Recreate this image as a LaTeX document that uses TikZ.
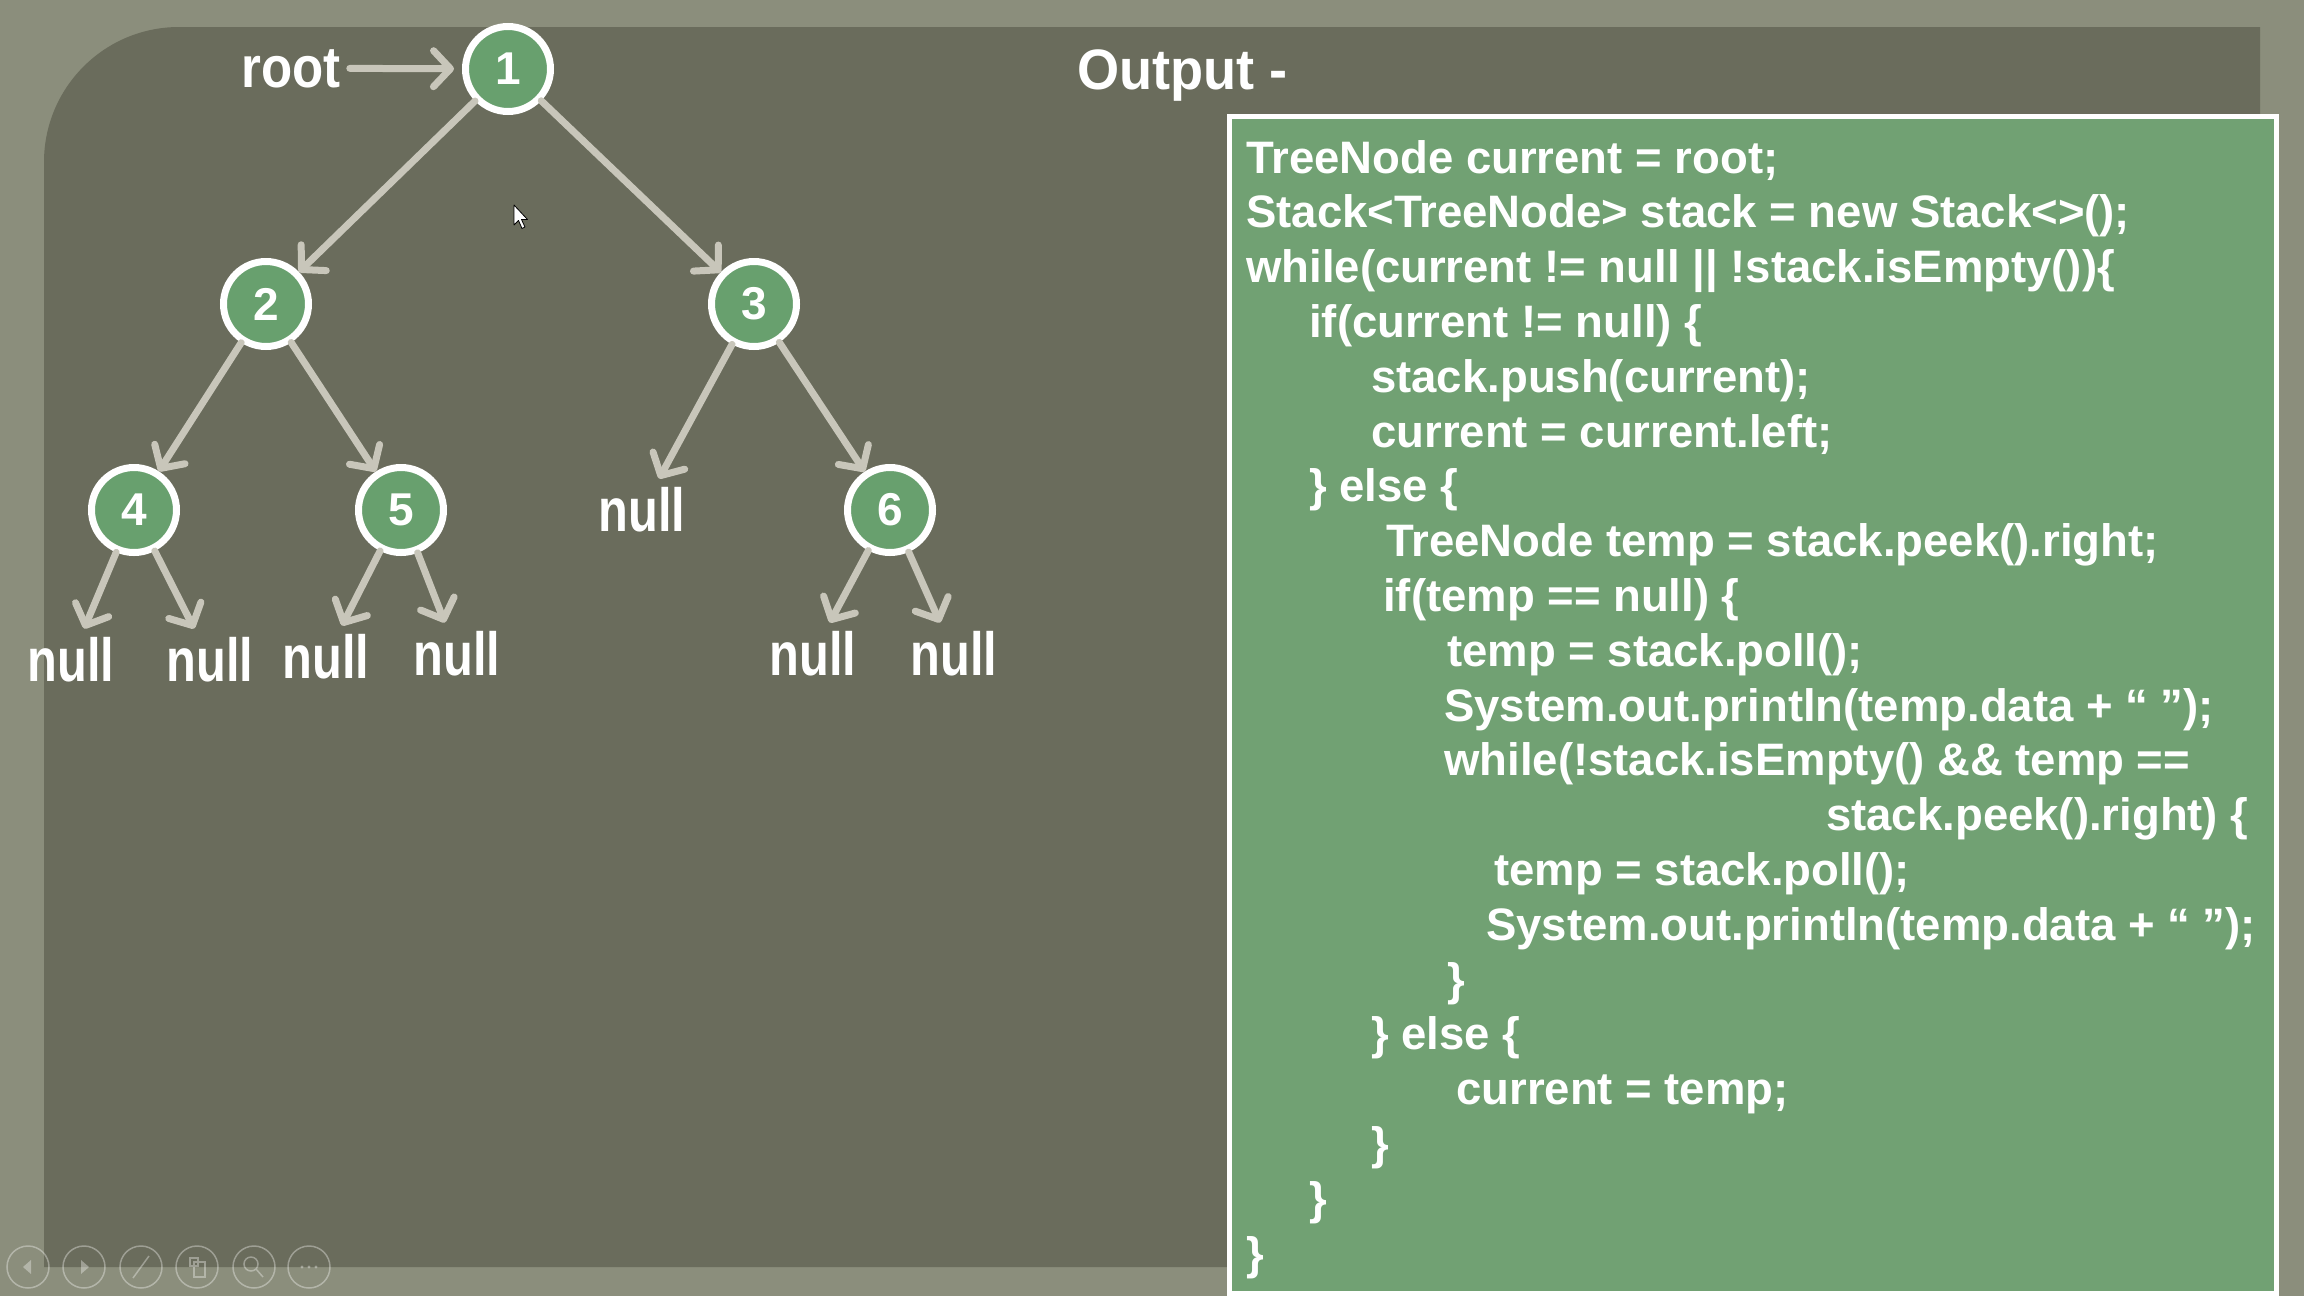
\documentclass[tikz,border=0pt]{standalone}
\usepackage{fontspec}
\setmainfont{Liberation Sans}
\usepackage{graphicx}
\usetikzlibrary{arrows.meta}
\definecolor{outerbg}{RGB}{139,142,124}
\definecolor{panelcol}{RGB}{106,108,92}
\definecolor{codegreen}{RGB}{113,161,115}
\definecolor{nodegreen}{RGB}{104,160,110}
\definecolor{edgecol}{RGB}{200,198,186}
\begin{document}
\begin{tikzpicture}[x=1pt,y=-1pt,
  tnode/.style={circle, fill=nodegreen, draw=white, line width=7pt, minimum size=85pt, inner sep=0pt, text=white, font=\fontsize{46}{48}\selectfont\bfseries},
  nulltxt/.style={text=white, font=\fontsize{61}{62}\selectfont\bfseries, inner sep=3pt, outer sep=6pt},
  treeedge/.style={draw=edgecol, line width=7pt, line cap=round, -{Straight Barb[length=17pt,width=36pt,round]}},
  codeline/.style={anchor=base west, inner sep=0pt, text=white, font=\fontsize{45.5}{50}\selectfont\bfseries},
  ctrl/.style={draw=white, draw opacity=0.35, line width=1.5pt},
]
\useasboundingbox (0,0) rectangle (2304,1296);
\fill[outerbg] (0,0) rectangle (2304,1296);
% dark panel
\fill[panelcol] (44,1267) [rounded corners=135pt] -- (44,27) [sharp corners] -- (2260,27) -- (2260,1267) -- cycle;
% code box
\filldraw[fill=codegreen, draw=white, line width=5pt] (1229,116) rectangle (2276,1293);

% tree
\node[tnode] (n1) at (508,69) {1};
\node[tnode] (n2) at (266,304) {2};
\node[tnode] (n3) at (754,304) {3};
\node[tnode] (n4) at (134,510) {4};
\node[tnode] (n5) at (401,510) {5};
\node[tnode] (n6) at (890,510) {6};
\node[nulltxt] (null3) at (642,510) {\scalebox{0.8}[1]{null}};
\node[nulltxt] (nullA) at (71,660) {\scalebox{0.8}[1]{null}};
\node[nulltxt] (nullB) at (210,660) {\scalebox{0.8}[1]{null}};
\node[nulltxt] (nullC) at (326,657) {\scalebox{0.8}[1]{null}};
\node[nulltxt] (nullD) at (457,654) {\scalebox{0.8}[1]{null}};
\node[nulltxt] (nullE) at (813,654) {\scalebox{0.8}[1]{null}};
\node[nulltxt] (nullF) at (954,654) {\scalebox{0.8}[1]{null}};
\node[anchor=base, text=white, font=\fontsize{58}{60}\selectfont\bfseries, inner sep=9pt] (root) at (291,87) {\scalebox{0.88}[1]{root}};

\draw[treeedge, shorten >=8pt] (root.east) -- (n1);
\draw[treeedge] (n1) -- (n2);
\draw[treeedge] (n1) -- (n3);
\draw[treeedge] (n2) -- (n4);
\draw[treeedge] (n2) -- (n5);
\draw[treeedge] (n3) -- (null3);
\draw[treeedge] (n3) -- (n6);
\draw[treeedge] (n4) -- (nullA);
\draw[treeedge] (n4) -- (nullB);
\draw[treeedge] (n5) -- (nullC);
\draw[treeedge] (n5) -- (nullD);
\draw[treeedge] (n6) -- (nullE);
\draw[treeedge] (n6) -- (nullF);

% output label
\node[anchor=base west, inner sep=0pt, text=white, font=\fontsize{57}{60}\selectfont\bfseries] (outlbl) at (1077,89) {\scalebox{0.95}[1]{Output -}};

% code
\node[codeline] (c1) at (1246,173.0) {TreeNode current = root;};
\node[codeline] (c2) at (1246,227.8) {Stack<TreeNode> stack = new Stack<>();};
\node[codeline] (c3) at (1246,282.6) {while(current != null || !stack.isEmpty())\{};
\node[codeline] (c4) at (1309,337.4) {if(current != null) \{};
\node[codeline] (c5) at (1371,392.2) {stack.push(current);};
\node[codeline] (c6) at (1371,447.0) {current = current.left;};
\node[codeline] (c7) at (1309,501.8) {\} else \{};
\node[codeline] (c8) at (1386,556.6) {TreeNode temp = stack.peek().right;};
\node[codeline] (c9) at (1383,611.4) {if(temp == null) \{};
\node[codeline] (c10) at (1447,666.2) {temp = stack.poll();};
\node[codeline] (c11) at (1444,721.0) {System.out.println(temp.data + “ ”);};
\node[codeline] (c12) at (1444,775.8) {while(!stack.isEmpty() \&\& temp ==};
\node[codeline] (c13) at (1826,830.6) {stack.peek().right) \{};
\node[codeline] (c14) at (1494,885.4) {temp = stack.poll();};
\node[codeline] (c15) at (1486,940.2) {System.out.println(temp.data + “ ”);};
\node[codeline] (c16) at (1447,995.0) {\}};
\node[codeline] (c17) at (1371,1049.8) {\} else \{};
\node[codeline] (c18) at (1456,1104.6) {current = temp;};
\node[codeline] (c19) at (1371,1159.4) {\}};
\node[codeline] (c20) at (1309,1214.2) {\}};
\node[codeline] (c21) at (1246,1269.0) {\}};

% mouse cursor
\filldraw[fill=white, draw=black, line width=0.8pt, line join=round]
  (514,205) -- (514,225) -- (518.5,220.5) -- (522,228.5) -- (525,227) -- (521.5,219.5) -- (527.5,219.5) -- cycle;

% slide controls
\draw[ctrl] (28,1267) circle (21);
\draw[ctrl] (84,1267) circle (21);
\draw[ctrl] (141,1267) circle (21);
\draw[ctrl] (197,1267) circle (21);
\draw[ctrl] (254,1267) circle (21);
\draw[ctrl] (309,1267) circle (21);
\fill[white, opacity=0.35] (23,1267) -- (31,1260) -- (31,1274) -- cycle;
\fill[white, opacity=0.35] (89,1267) -- (81,1260) -- (81,1274) -- cycle;
\draw[ctrl] (133,1278) -- (149,1256);
\draw[ctrl] (190,1258) rectangle (198,1266) (194,1262) rectangle (205,1277);
\draw[ctrl] (251,1264) circle (7) (256,1269) -- (263,1277);
\fill[white, opacity=0.35] (302,1267) circle (1.6) (309,1267) circle (1.6) (316,1267) circle (1.6);
\end{tikzpicture}
\end{document}
